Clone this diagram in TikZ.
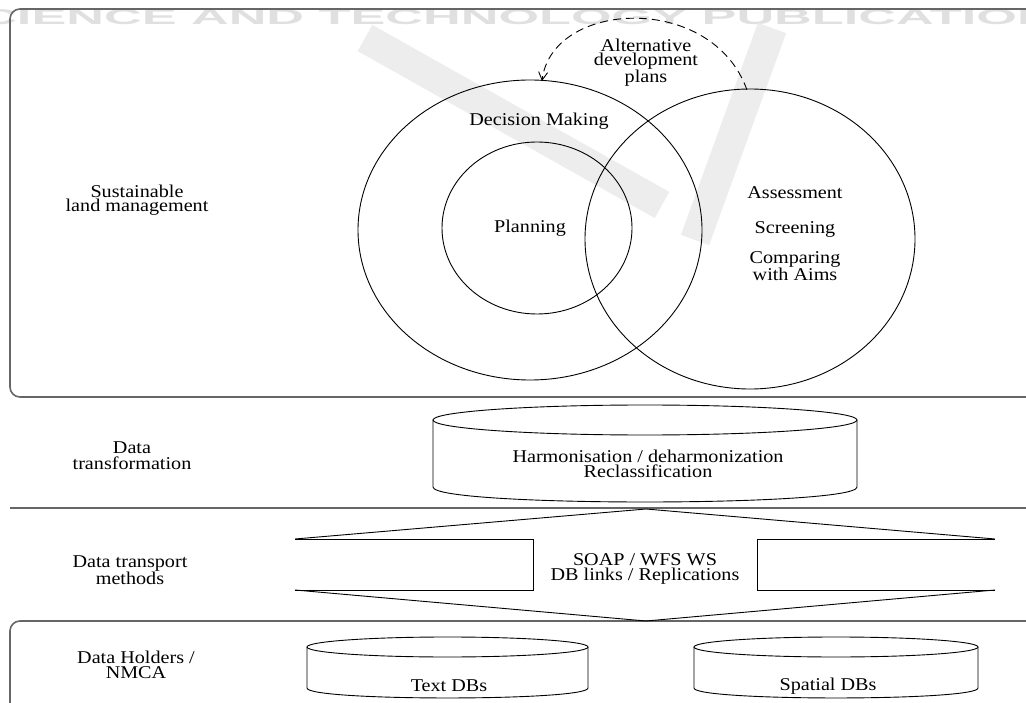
\documentclass[tikz,border=0pt]{standalone}
\usepackage{fontspec}
\setmainfont{Liberation Serif}[FakeStretch=1.12]
\newfontfamily\wmfont{Liberation Sans}
\usetikzlibrary{arrows.meta}
\begin{document}
\begin{tikzpicture}[x=1pt,y=-1pt,
  lbl/.style={font=\fontsize{18}{14}\selectfont, align=center, inner sep=0pt},
  layer/.style={draw=black!60, line width=1.6pt},
  part/.style={draw=black, line width=0.9pt},
  wm/.style={text=black!12, inner sep=0pt},
  wmstroke/.style={draw=black!7, line width=30pt},
]
\useasboundingbox (0,0) rectangle (1026,703);
% watermark
\node[wm] (wmark) at (517,17.5) {\resizebox{1145pt}{15pt}{\wmfont\bfseries SCIENCE AND TECHNOLOGY PUBLICATIONS}};
\draw[wmstroke] (365,38) -- (662,205);
\draw[wmstroke] (772,28) -- (695,240);

% layers
\draw[layer, rounded corners=10] (1040,9) -- (10,9) -- (10,397) -- (1040,397);
\draw[layer] (10,508) -- (1040,508);
\draw[layer, rounded corners=10] (1040,621) -- (10,621) -- (10,730);

% layer labels
\node[lbl, font=\fontsize{18}{14}\selectfont] (slm) at (137,200) {Sustainable\\land management};
\node[lbl, font=\fontsize{18}{16}\selectfont] (dtr) at (132,455.5) {Data\\transformation};
\node[lbl, font=\fontsize{18}{15}\selectfont] (dtm) at (130,570) {Data transport\\methods};
\node[lbl, font=\fontsize{18}{15}\selectfont] (dh) at (136,665) {Data Holders /\\NMCA};

% circles
\draw[part] (530,230) ellipse [x radius=172, y radius=150];
\draw[part] (537,228) ellipse [x radius=95, y radius=86];
\draw[part] (750,239) ellipse [x radius=165, y radius=150];

\node[lbl] (dm) at (539,121) {Decision Making};
\node[lbl] (pl) at (530,228) {Planning};
\node[lbl] (as) at (795,193) {Assessment};
\node[lbl] (sc) at (795,229) {Screening};
\node[lbl, font=\fontsize{18}{11.5}\selectfont] (cw) at (795,266) {Comparing\\with Aims};
\node[lbl, font=\fontsize{18}{13.5}\selectfont] (alt) at (646,63) {Alternative\\development\\plans};

\coordinate (arS) at (747,90);
\coordinate (arE) at (542,81);
\draw[part, dashed, dash pattern=on 8pt off 5pt, -{Straight Barb[length=8pt,width=9pt]}]
  (arS) .. controls (712,-8) and (552,0) .. (arE);

% data transformation cylinder
\draw[part] (645,420) ellipse [x radius=212, y radius=15];
\draw[part] (433,420) -- (433,487) .. controls (433,507) and (857,507) .. (857,487) -- (857,420);
\node[lbl, font=\fontsize{18}{15}\selectfont] (harm) at (648,464) {Harmonisation / deharmonization\\Reclassification};

% transport arrow
\draw[part] (295,539) -- (646,509) -- (995,539);
\draw[part] (295,539) -- (533,539) -- (533,590) -- (295,590);
\draw[part] (995,539) -- (757,539) -- (757,590) -- (995,590);
\draw[part] (295,590) -- (646,621) -- (995,590);
\node[lbl, font=\fontsize{18}{15}\selectfont] (soap) at (645,569) {SOAP / WFS WS\\DB links / Replications};

% DB cylinders
\draw[part] (447.5,647) ellipse [x radius=140.5, y radius=10];
\draw[part] (307,647) -- (307,688) .. controls (307,701.3) and (588,701.3) .. (588,688) -- (588,647);
\node[lbl] (tdb) at (449,686) {Text DBs};

\draw[part] (836,647) ellipse [x radius=142, y radius=10];
\draw[part] (694,647) -- (694,688) .. controls (694,701.3) and (978,701.3) .. (978,688) -- (978,647);
\node[lbl] (sdb) at (828,686) {Spatial DBs};
\end{tikzpicture}
\end{document}
